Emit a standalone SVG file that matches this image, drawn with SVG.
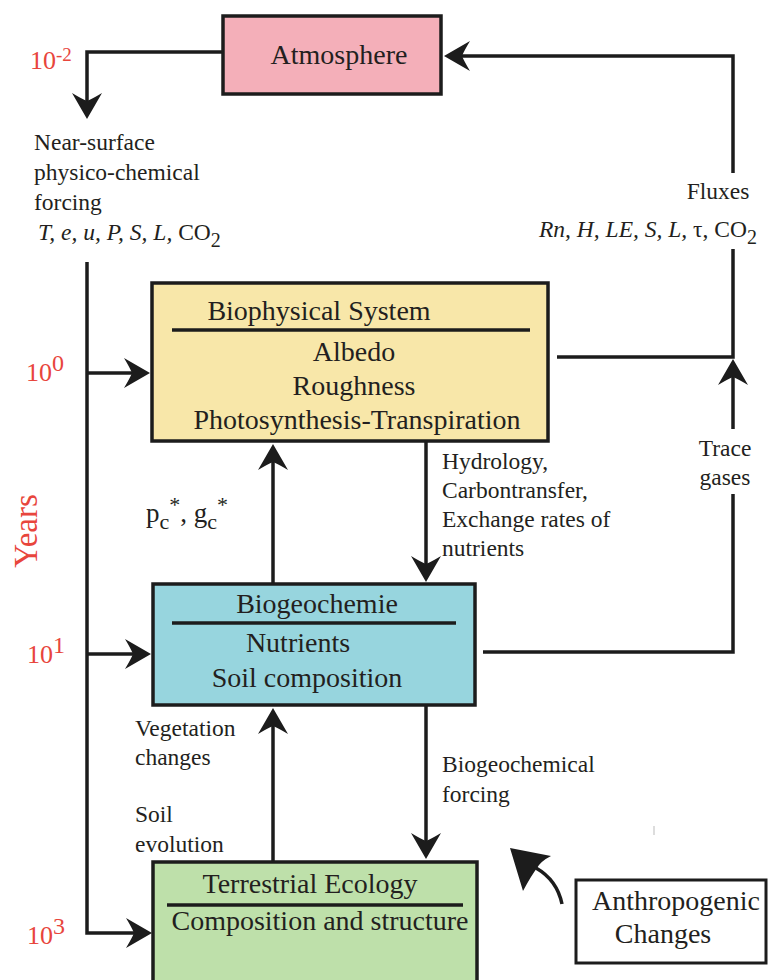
<svg xmlns="http://www.w3.org/2000/svg" width="769" height="980" viewBox="0 0 769 980">
<style>
.box{stroke:#1c1c1c;stroke-width:3.5}
.t{font-family:"Liberation Serif","Times New Roman",serif;fill:#231f20}
.big{font-size:28px}
.sm{font-size:23.5px}
.red{font-family:"Liberation Serif","Times New Roman",serif;fill:#e8453c;font-size:26px}
.div{stroke:#1c1c1c;stroke-width:3.5}
.conn path{fill:none;stroke:#1c1c1c;stroke-width:3.5}
.conn path.head{fill:#1c1c1c;stroke:none}
.it{font-style:italic}
</style>
<defs>
<marker id="arr" markerUnits="userSpaceOnUse" orient="auto" markerWidth="40" markerHeight="40" viewBox="-30 -20 40 40" refX="0" refY="0" overflow="visible">
<path d="M4,0 L-22,-15 Q-16,-5 -14,0 Q-16,5 -22,15 Z" fill="#1c1c1c"/>
</marker>
</defs>
<rect width="769" height="980" fill="#ffffff"/>

<g id="atmosphere">
<rect class="box" x="223" y="16" width="218" height="78" fill="#F4AFB9"/>
<text class="t big" x="339" y="64" text-anchor="middle">Atmosphere</text>
</g>

<g id="biophysical">
<rect class="box" x="152" y="283" width="396" height="158" fill="#F8E7A9"/>
<text class="t big" x="319" y="320" text-anchor="middle">Biophysical System</text>
<line class="div" x1="172" y1="330" x2="530" y2="330"/>
<text class="t big" x="354" y="361" text-anchor="middle">Albedo</text>
<text class="t big" x="354" y="395" text-anchor="middle">Roughness</text>
<text class="t big" x="357" y="429" text-anchor="middle">Photosynthesis-Transpiration</text>
</g>

<g id="biogeochemie">
<rect class="box" x="153" y="584" width="322" height="121" fill="#97D5DE"/>
<text class="t big" x="317" y="613" text-anchor="middle">Biogeochemie</text>
<line class="div" x1="172" y1="623" x2="456" y2="623"/>
<text class="t big" x="298" y="652" text-anchor="middle">Nutrients</text>
<text class="t big" x="307" y="687" text-anchor="middle">Soil composition</text>
</g>

<g id="terrestrial">
<rect class="box" x="153" y="862" width="324" height="140" fill="#BEE0AA"/>
<text class="t big" x="310" y="893" text-anchor="middle">Terrestrial Ecology</text>
<line class="div" x1="167" y1="905" x2="463" y2="905"/>
<text class="t big" x="320" y="930" text-anchor="middle">Composition and structure</text>
</g>

<g id="anthropogenic">
<rect x="576" y="880" width="190" height="83" fill="#ffffff" stroke="#1c1c1c" stroke-width="3"/>
<text class="t big" x="676" y="910" text-anchor="middle">Anthropogenic</text>
<text class="t big" x="663" y="943" text-anchor="middle">Changes</text>
</g>

<g id="connectors" class="conn">
<path d="M223,52 H87 V115" marker-end="url(#arr)"/>
<path d="M87,262 V933 H148" marker-end="url(#arr)"/>
<path d="M87,373 H146" marker-end="url(#arr)"/>
<path d="M87,654 H147" marker-end="url(#arr)"/>
<path d="M426,442 V578" marker-end="url(#arr)"/>
<path d="M273,583 V448" marker-end="url(#arr)"/>
<path d="M273,862 V712" marker-end="url(#arr)"/>
<path d="M426,706 V855" marker-end="url(#arr)"/>
<path d="M557,357 H733 V249"/>
<path d="M733,173 V56 H448" marker-end="url(#arr)"/>
<path d="M483,652 H733 V494"/>
<path d="M733,429 V363" marker-end="url(#arr)"/>
<path d="M536,868 Q557,880 562,904" stroke-width="4.5"/>
<path class="head" d="M510,848 L551,856 Q541,861 537,868 Q531,876 523,891 Z"/>
</g>

<g id="labels">
<text class="t sm" x="34" y="150">Near-surface</text>
<text class="t sm" x="34" y="180">physico-chemical</text>
<text class="t sm" x="34" y="210">forcing</text>
<text class="t sm" x="38" y="240"><tspan class="it">T, e, u, P, S, L,</tspan> CO<tspan font-size="20" dy="7">2</tspan></text>
<text class="t sm" x="718" y="199" text-anchor="middle">Fluxes</text>
<text class="t sm" x="539" y="237"><tspan class="it">Rn, H, LE, S, L,</tspan> τ, CO<tspan font-size="20" dy="7">2</tspan></text>
<text class="t sm" x="442" y="469">Hydrology,</text>
<text class="t sm" x="442" y="498">Carbontransfer,</text>
<text class="t sm" x="442" y="527">Exchange rates of</text>
<text class="t sm" x="442" y="556">nutrients</text>
<text class="t sm" x="725" y="456" text-anchor="middle">Trace</text>
<text class="t sm" x="725" y="485" text-anchor="middle">gases</text>
<text class="t" font-size="27" x="146" y="522">p<tspan font-size="22" dy="7">c</tspan><tspan font-size="22" dy="-17">*</tspan><tspan dy="10">, g</tspan><tspan font-size="22" dy="7">c</tspan><tspan font-size="22" dy="-17">*</tspan></text>
<text class="t sm" x="135" y="736">Vegetation</text>
<text class="t sm" x="135" y="765">changes</text>
<text class="t sm" x="135" y="822">Soil</text>
<text class="t sm" x="135" y="852">evolution</text>
<text class="t sm" x="442" y="772">Biogeochemical</text>
<text class="t sm" x="442" y="802">forcing</text>
<text class="red" x="30" y="69">10<tspan font-size="19" dy="-8">-2</tspan></text>
<text class="red" x="26" y="381">10<tspan font-size="24" dy="-10">0</tspan></text>
<text class="red" x="27" y="663">10<tspan font-size="24" dy="-10">1</tspan></text>
<text class="red" x="27" y="944">10<tspan font-size="24" dy="-10">3</tspan></text>
<text class="red" style="font-size:33px" transform="translate(37,531) rotate(-90)" text-anchor="middle">Years</text>
<line x1="654" y1="826" x2="654" y2="835" stroke="#bbbbbb" stroke-width="1"/>
</g>
</svg>
